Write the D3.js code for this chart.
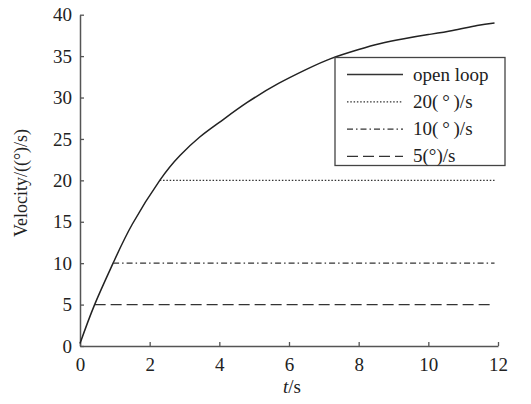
<!DOCTYPE html>
<html><head><meta charset="utf-8">
<script src="https://cdn.jsdelivr.net/npm/d3@7"></script>
<style>body{margin:0;background:#fff}svg{display:block}text{font-family:"Liberation Serif","Times New Roman",serif;fill:#222}</style>
</head><body><svg id="c" width="531" height="404"></svg>
<script>
const tOpen = [0,0.42,0.95,1.5,2.29,2.87,3.43,4.0,4.8,5.7,6.5,7.2,8.0,8.6,9.3,10,10.7,11.4,11.9];
const vOpen = [0.3,5,10,14.7,20,23.0,25.2,27.0,29.4,31.7,33.4,34.7,35.8,36.5,37.1,37.6,38.1,38.7,39.0];
const limits = [20,10,5];
const limitStart = [2.29,0.95,0.42];
const tEnd = 11.9;
const seriesNames = ["open loop","20(\u2009°\u2009)/s","10(\u2009°\u2009)/s","5(°)/s"];
const dashes = [null,"1.5,1.8","6,3,1.5,3","11,5"];
const xTicks = [0,2,4,6,8,10,12];
const yTicks = [0,5,10,15,20,25,30,35,40];

const svg = d3.select("#c");
const x = d3.scaleLinear().domain([0,12]).range([80,498]);
const y = d3.scaleLinear().domain([0,40]).range([346,14.7]);
const axisColor = "#555";

const gx = svg.append("g").attr("transform","translate(0,346)")
  .call(d3.axisBottom(x).tickValues(xTicks).tickSizeInner(-4).tickSizeOuter(0).tickPadding(8));
const gy = svg.append("g").attr("transform","translate(80,0)")
  .call(d3.axisLeft(y).tickValues(yTicks).tickSizeInner(-4).tickSizeOuter(0).tickPadding(7));
[gx,gy].forEach(g=>{
  g.select(".domain").attr("stroke",axisColor).attr("stroke-width",1.5);
  g.selectAll(".tick line").attr("stroke",axisColor).attr("stroke-width",1.3);
  g.selectAll(".tick text").attr("font-family","Liberation Serif, serif").attr("font-size",19).attr("fill","#222");
});
gx.selectAll(".tick text").attr("dy","0.9em");
gy.selectAll(".tick text").attr("dx","-1");

const line = d3.line().x(d=>x(d[0])).y(d=>y(d[1])).curve(d3.curveNatural);
svg.append("path").datum(tOpen.map((t,i)=>[t,vOpen[i]]))
  .attr("d",line).attr("fill","none").attr("stroke","#222").attr("stroke-width",1.5);

limits.forEach((v,i)=>{
  svg.append("path").datum([[limitStart[i],v],[tEnd,v]])
    .attr("d",d3.line().x(d=>x(d[0])).y(d=>y(d[1])))
    .attr("fill","none").attr("stroke","#333").attr("stroke-width",1.3)
    .attr("stroke-dasharray",dashes[i+1]);
});

// legend
const lg = svg.append("g");
lg.append("rect").attr("x",335).attr("y",57.5).attr("width",170).attr("height",108)
  .attr("fill","#fff").attr("stroke","#444").attr("stroke-width",1.3);
seriesNames.forEach((n,i)=>{
  const yy = 74.5 + i*27.3;
  lg.append("line").attr("x1",347).attr("x2",403).attr("y1",yy).attr("y2",yy)
    .attr("stroke","#333").attr("stroke-width",1.3).attr("stroke-dasharray",dashes[i]);
  lg.append("text").attr("x",413).attr("y",yy+6).attr("font-size",19).text(n);
});

svg.append("text").attr("transform","translate(27,183) rotate(-90)")
  .attr("text-anchor","middle").attr("font-size",18).text("Velocity/((°)/s)");
const xl = svg.append("text").attr("x",292).attr("y",393).attr("text-anchor","middle").attr("font-size",19);
xl.append("tspan").attr("font-style","italic").text("t");
xl.append("tspan").text("/s");
</script></body></html>
